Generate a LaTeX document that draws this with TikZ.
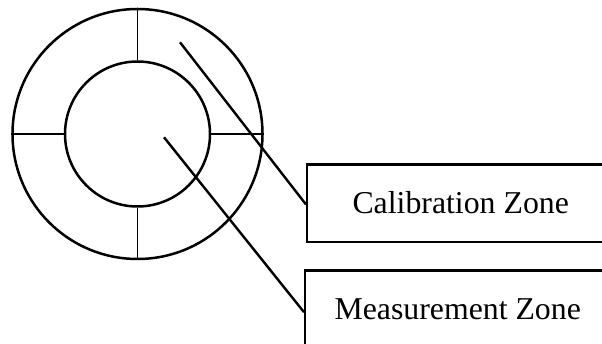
\documentclass[tikz,border=0pt]{standalone}
\usepackage{fontspec}
\setmainfont{Liberation Serif}
\begin{document}
\begin{tikzpicture}[x=1pt,y=-1pt,
  ring/.style={draw,circle,line width=2.5pt,inner sep=0pt},
  divider/.style={line width=1.3pt},
  leader/.style={line width=2.4pt},
  labelbox/.style={draw,rectangle,line width=2.4pt,anchor=north west,
    minimum height=77.4pt,inner sep=0pt,font=\fontsize{31.8}{36}\selectfont,
    text depth=0pt,text height=20pt}]
  \useasboundingbox (0,0) rectangle (602,344);
  % concentric zones
  \node[ring,minimum size=250pt] (outer) at (137.5,134) {};
  \node[ring,minimum size=145pt] (inner) at (137.5,134) {};
  % dividers of the calibration ring
  \draw[divider] (outer.north) -- (inner.north);
  \draw[divider] (outer.south) -- (inner.south);
  \draw[divider] (outer.west) -- (inner.west);
  \draw[divider] (outer.east) -- (inner.east);
  % labels
  \node[labelbox,minimum width=307pt] (calib) at (306,163.3) {Calibration Zone};
  \node[labelbox,minimum width=305pt] (meas) at (304,269.3) {Measurement Zone};
  % leader lines
  \coordinate (cpt) at (180,42.3);
  \coordinate (mpt) at (164,137.3);
  \draw[leader] (cpt) -- ([yshift=-1.3pt]calib.west);
  \draw[leader] (mpt) -- ([yshift=-3pt]meas.west);
\end{tikzpicture}
\end{document}
